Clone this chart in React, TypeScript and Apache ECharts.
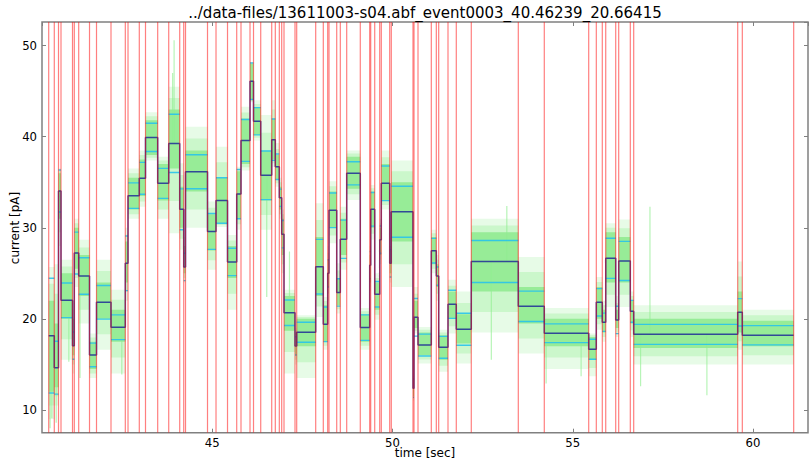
import React, { useEffect, useRef } from "react";
import * as echarts from "echarts";

const TITLE = "../data-files/13611003-s04.abf_event0003_40.46239_20.66415";
const X_NAME = "time [sec]";
const Y_NAME = "current [pA]";
const X_MIN = 40.276;
const X_MAX = 61.524;
const Y_MIN = 7.5;
const Y_MAX = 52.6;

// change points (red lines / step boundaries), seconds
const breaks = [
  40.462, 40.617, 40.734, 40.803, 41.122, 41.172, 41.294, 41.594, 41.788, 42.19,
  42.587, 42.662, 42.975, 43.147, 43.485, 43.791, 44.096, 44.207, 44.257, 44.867,
  45.103, 45.422, 45.677, 45.796, 46.046, 46.143, 46.343, 46.648, 46.748, 46.859,
  46.925, 46.989, 47.294, 47.341, 47.868, 48.079, 48.201, 48.237, 48.451, 48.551,
  48.728, 49.105, 49.366, 49.394, 49.505, 49.644, 49.688, 49.921, 49.965, 50.567,
  50.595, 50.706, 51.075, 51.214, 51.28, 51.538, 51.768, 52.184, 53.488, 54.209,
  55.441, 55.652, 55.818, 55.913, 56.19, 56.273, 56.595, 56.689, 59.574, 59.702,
  61.127,
];

// step-fit level of each segment, pA
const levels = [
  18.16, 14.64, 34.04, 22.04, 17.06, 27.23, 24.71, 16.04, 21.82, 19.08,
  26.1, 33.53, 35.43, 39.93, 34.88, 39.27, 32.03, 25.7, 36.16, 29.6,
  33.0, 26.25, 33.7, 39.6, 46.1, 41.7, 35.76, 39.67, 36.71, 33.3,
  29.3, 20.68, 17.03, 18.53, 25.73, 19.4, 25.0, 31.92, 22.9, 28.74,
  35.98, 19.04, 25.9, 32.03, 22.7, 28.7, 34.88, 26.1, 31.77, 12.38,
  20.17, 17.13, 27.49, 24.7, 16.88, 21.6, 18.86, 26.3, 21.38, 18.42,
  16.66, 21.82, 19.63, 26.65, 19.88, 26.36, 20.83, 18.3, 20.72, 18.2,
];

// half distance between the two cyan lines of each segment, pA
const cyanSpread = [
  6.3, 2.9, 2.3, 1.9, 1.5, 2.3, 2.0, 1.3, 1.85, 1.36,
  3.0, 1.4, 1.75, 1.55, 1.65, 3.2, 2.25, 1.5, 1.87, 1.97,
  2.5, 1.5, 2.7, 2.3, 2.0, 1.5, 2.67, 2.27, 1.4, 0.95,
  1.5, 1.4, 1.0, 1.1, 3.0, 1.9, 1.5, 1.9, 1.5, 2.1,
  1.27, 1.4, 1.5, 1.85, 1.4, 1.5, 1.9, 1.5, 2.8, 1.0,
  2.07, 1.2, 1.35, 1.0, 1.2, 1.55, 1.75, 2.3, 1.67, 1.03,
  1.1, 1.5, 1.0, 2.2, 1.5, 2.15, 1.2, 1.1, 1.5, 1.06,
];

// raw trace: sparse extent of each segment, pA
const greenLo = [
  9.0, 10.5, 28, 15.5, 14, 23.5, 19.5, 13.5, 16.6, 14.0,
  22, 31, 32.3, 37.4, 31, 29.4, 27.6, 24, 30, 25.4,
  30.1, 21.0, 29.8, 36.3, 43.8, 39.6, 29.8, 36.7, 34.5, 31,
  25, 14.0, 15, 13.5, 20.2, 16.6, 22, 28.3, 20.6, 25.4,
  33.05, 16.6, 23, 28.7, 19.9, 26, 32.0, 24, 23.5, 11,
  18.4, 15.1, 25.0, 22, 14.2, 18.4, 15.1, 18.5, 16.2, 14.5,
  13.7, 18.8, 17.5, 21.3, 18, 21.3, 18, 15.0, 16.6, 15.0,
];
const greenHi = [
  25.7, 26, 36.5, 26.5, 22, 31.0, 28.7, 18.4, 26.5, 23.2,
  30, 36.5, 38.5, 42.7, 37.8, 45.5, 37.1, 30, 41.1, 32.9,
  38.9, 29.2, 36.7, 43.3, 48.2, 44.0, 42.4, 44, 39.3, 35.5,
  32, 23.2, 19, 20.4, 32.7, 22.4, 28, 35.1, 26.1, 32.3,
  38.5, 21.2, 28, 34.7, 25.0, 31, 38.5, 30, 37.4, 14,
  23.5, 19.1, 29.8, 27, 18.8, 24.3, 23.0, 31, 26.8, 21.2,
  18.4, 24.6, 22, 30.5, 22.5, 30.9, 23, 21.5, 26.3, 21.0,
];
// raw trace: dense core of each segment, pA
const coreLo = [
  12, 12.5, 31, 20, 16, 25.5, 22.5, 14.5, 20, 17.5,
  24, 32, 33.5, 38, 33, 36.5, 30, 25, 34, 27.5,
  30.5, 24.5, 31, 37, 44, 40.2, 33, 37.5, 35.3, 32,
  27, 18.7, 16, 17, 22.5, 17.5, 23.5, 30, 21.5, 27,
  34.3, 17.5, 24, 30, 21, 27, 33, 25, 28.5, 11.5,
  19, 16, 26, 23.5, 15.5, 20, 17.3, 23, 19.5, 17,
  15.5, 20, 18.5, 24, 19, 24, 19.5, 16.8, 18.5, 17,
];
const coreHi = [
  22, 19.5, 36, 25, 20, 30, 27, 17.5, 24, 21,
  28.5, 35.5, 37.5, 41.8, 37, 43, 34.5, 28, 38.5, 31.5,
  35.5, 28, 36.2, 42, 48, 43.2, 38.5, 42, 38, 34.5,
  31, 22.5, 18.5, 20, 29, 21.5, 26.5, 34, 24.5, 31,
  37.8, 20.5, 27, 34, 24, 30, 37, 28, 35, 13.5,
  22, 18.5, 29, 26, 18.2, 23, 20.5, 29.5, 23.5, 20,
  18, 23.5, 21, 29.5, 21, 29, 22, 20, 23, 19.8,
];

// isolated excursions of the raw trace: [time s, current pA]
const spikes = [
  [40.5, 8.0], [40.55, 9.1], [40.67, 8.6], [41.02, 15.3], [41.33, 13.5],
  [42.49, 13.9], [43.9, 47.0], [43.94, 50.6], [46.51, 22.4], [47.14, 27.4],
  [52.74, 15.5], [53.17, 32.4], [54.26, 12.9], [55.23, 13.7], [56.88, 12.6],
  [57.14, 32.3], [58.72, 11.6],
];

export default function App() {
  const ref = useRef<HTMLDivElement>(null);

  useEffect(() => {
    if (!ref.current) return;
    const chart = echarts.init(ref.current, null, { renderer: "svg" });
    const font = "DejaVu Sans";

    const segs = levels.map((lv, i) => [
      breaks[i], breaks[i + 1], lv, cyanSpread[i],
      greenLo[i], greenHi[i], coreLo[i], coreHi[i],
    ]);
    const stepData = levels.map((lv, i) => [breaks[i], lv]);
    stepData.push([breaks[breaks.length - 1], levels[levels.length - 1]]);
    const levelAt = (t: number) => {
      for (let i = 0; i < levels.length; i++) {
        if (t >= breaks[i] && t < breaks[i + 1]) return levels[i];
      }
      return levels[levels.length - 1];
    };
    const spikeData = spikes.map(([t, y]) => [t, levelAt(t), y]);
    const redData = breaks.map((t) => [t, Y_MIN]);

    const tickStyle = { show: true, inside: true, length: 4, lineStyle: { color: "#808080", width: 1 } };

    const band = (api: any, t0: number, t1: number, lo: number, hi: number, fill: string) => {
      const a = api.coord([t0, hi]);
      const b = api.coord([t1, lo]);
      return {
        type: "rect",
        shape: { x: a[0], y: a[1], width: b[0] - a[0], height: b[1] - a[1] },
        style: { fill },
      };
    };

    chart.setOption({
      animation: false,
      backgroundColor: "#ffffff",
      grid: {
        left: 42, right: 1, top: 22, bottom: 30.3,
        show: true, borderColor: "#808080", borderWidth: 1.5,
        backgroundColor: "transparent",
        outerBoundsMode: "none",
      },
      graphic: [
        {
          type: "text", x: 425, y: 13, z: 100,
          style: {
            text: TITLE, fontFamily: font, fontSize: 15, fill: "#000",
            align: "center", verticalAlign: "middle",
          },
        },
        {
          type: "text", x: 425, y: 453, z: 100,
          style: {
            text: X_NAME, fontFamily: font, fontSize: 12, fill: "#000",
            align: "center", verticalAlign: "middle",
          },
        },
        {
          type: "text", x: 15, y: 228, rotation: Math.PI / 2, z: 100,
          style: {
            text: Y_NAME, fontFamily: font, fontSize: 12, fill: "#000",
            align: "center", verticalAlign: "middle",
          },
        },
      ],
      xAxis: [
        {
          type: "value", position: "bottom", min: X_MIN, max: X_MAX, splitNumber: 5,
          axisLine: { show: false }, splitLine: { show: false },
          axisTick: tickStyle,
          axisLabel: {
            fontFamily: font, fontSize: 11.7, color: "#000", margin: 4,
            showMinLabel: false, showMaxLabel: false,
          },
        },
        {
          type: "value", position: "top", min: X_MIN, max: X_MAX, splitNumber: 5,
          axisLine: { show: false }, splitLine: { show: false },
          axisTick: tickStyle, axisLabel: { show: false },
        },
      ],
      yAxis: [
        {
          type: "value", position: "left", min: Y_MIN, max: Y_MAX, splitNumber: 5,
          axisLine: { show: false }, splitLine: { show: false },
          axisTick: tickStyle,
          axisLabel: {
            fontFamily: font, fontSize: 11.7, color: "#000", margin: 5,
            showMinLabel: false, showMaxLabel: false,
          },
        },
        {
          type: "value", position: "right", min: Y_MIN, max: Y_MAX, splitNumber: 5,
          axisLine: { show: false }, splitLine: { show: false },
          axisTick: tickStyle, axisLabel: { show: false },
        },
      ],
      series: [
        {
          type: "custom", name: "trace", clip: true, silent: true, z: 1,
          data: segs, encode: { x: [0, 1], y: [4, 5] },
          renderItem: (params: any, api: any) => {
            const t0 = api.value(0), t1 = api.value(1);
            const lo = api.value(4), hi = api.value(5);
            const clo = api.value(6), chi = api.value(7);
            const mlo = (lo + clo) / 2, mhi = (hi + chi) / 2;
            return {
              type: "group",
              children: [
                band(api, t0, t1, lo, hi, "rgba(144,238,144,0.22)"),
                band(api, t0, t1, mlo, mhi, "rgba(144,238,144,0.32)"),
                band(api, t0, t1, clo, chi, "rgba(138,232,138,0.8)"),
              ],
            };
          },
        },
        {
          type: "custom", name: "spikes", clip: true, silent: true, z: 2,
          data: spikeData, encode: { x: 0, y: [1, 2] },
          renderItem: (params: any, api: any) => {
            const p = api.coord([api.value(0), api.value(1)]);
            const q = api.coord([api.value(0), api.value(2)]);
            return {
              type: "line",
              shape: { x1: p[0], y1: p[1], x2: q[0], y2: q[1] },
              style: { stroke: "rgba(144,238,144,0.65)", lineWidth: 1.2 },
            };
          },
        },
        {
          type: "custom", name: "cyan", clip: true, silent: true, z: 3,
          data: segs, encode: { x: [0, 1], y: 2 },
          renderItem: (params: any, api: any) => {
            const t0 = api.value(0), t1 = api.value(1);
            const lv = api.value(2), s = api.value(3);
            const u0 = api.coord([t0, lv + s]);
            const u1 = api.coord([t1, lv + s]);
            const l0 = api.coord([t0, lv - s]);
            const l1 = api.coord([t1, lv - s]);
            const st = { stroke: "rgba(40,195,235,0.9)", lineWidth: 1.4 };
            return {
              type: "group",
              children: [
                { type: "line", shape: { x1: u0[0], y1: u0[1], x2: u1[0], y2: u1[1] }, style: st },
                { type: "line", shape: { x1: l0[0], y1: l0[1], x2: l1[0], y2: l1[1] }, style: st },
              ],
            };
          },
        },
        {
          type: "line", name: "fit", step: "end", data: stepData,
          showSymbol: false, symbol: "none", silent: true, z: 4,
          lineStyle: { color: "rgba(30,45,150,0.85)", width: 1.5 },
        },
        {
          type: "custom", name: "events", clip: true, silent: true, z: 5,
          data: redData, encode: { x: 0, y: 1 },
          renderItem: (params: any, api: any) => {
            const cs = params.coordSys;
            const x = api.coord([api.value(0), Y_MIN])[0];
            return {
              type: "line",
              shape: { x1: x, y1: cs.y, x2: x, y2: cs.y + cs.height },
              style: { stroke: "rgba(255,0,0,0.5)", lineWidth: 1.2 },
            };
          },
        },
      ],
    });

    return () => chart.dispose();
  }, []);

  return (
    <div
      ref={ref}
      style={{ position: "fixed", left: 0, top: 0, width: 809, height: 463, background: "#fff" }}
    />
  );
}
